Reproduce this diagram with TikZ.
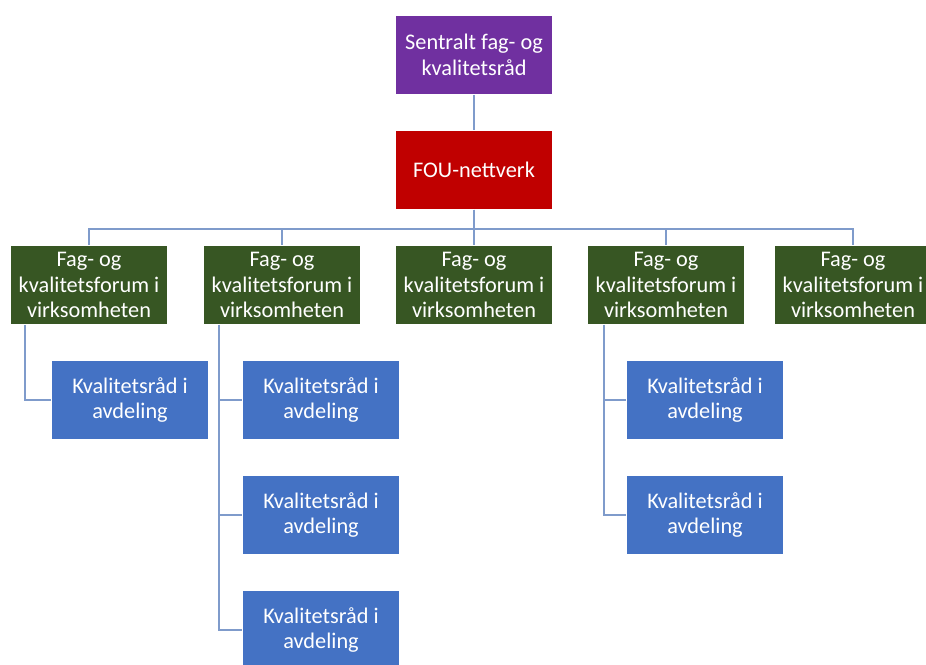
\documentclass[tikz,border=0pt]{standalone}
\usepackage{fontspec}
\setmainfont{Carlito}
\definecolor{raadpurple}{HTML}{7030A0}
\definecolor{foured}{HTML}{C00000}
\definecolor{forumgreen}{HTML}{375623}
\definecolor{avdblue}{HTML}{4472C4}
\definecolor{linkline}{HTML}{7F9BCB}
\begin{document}
\begin{tikzpicture}[x=0.02cm, y=-0.02cm,
    unit/.style={rectangle, draw=white, line width=0.4pt, text=white, align=center,
      minimum width=3.14cm, minimum height=1.58cm, inner sep=1pt,
      font=\fontsize{12.7}{14.6}\selectfont},
    link/.style={draw=linkline, line width=0.8pt}]
        \clip (0,0) rectangle (926,664);

        % Sentralt raad
        \node[unit, fill=raadpurple] (sentral) at (474,55) {Sentralt fag- og\\kvalitetsråd};

        % FOU-nettverk
        \node[unit, fill=foured] (fou) at (474,170) {FOU-nettverk};

        % Fag- og kvalitetsforum
        \node[unit, fill=forumgreen] (forum1) at (89,285) {Fag- og\\kvalitetsforum i\\virksomheten};
        \node[unit, fill=forumgreen] (forum2) at (282,285) {Fag- og\\kvalitetsforum i\\virksomheten};
        \node[unit, fill=forumgreen] (forum3) at (474,285) {Fag- og\\kvalitetsforum i\\virksomheten};
        \node[unit, fill=forumgreen] (forum4) at (666,285) {Fag- og\\kvalitetsforum i\\virksomheten};
        \node[unit, fill=forumgreen] (forum5) at (853,285) {Fag- og\\kvalitetsforum i\\virksomheten};

        % Kvalitetsraad i avdeling
        \node[unit, fill=avdblue] (avd1) at (130,400) {Kvalitetsråd i\\avdeling};
        \node[unit, fill=avdblue] (avd2a) at (321,400) {Kvalitetsråd i\\avdeling};
        \node[unit, fill=avdblue] (avd2b) at (321,515) {Kvalitetsråd i\\avdeling};
        \node[unit, fill=avdblue] (avd2c) at (321,630) {Kvalitetsråd i\\avdeling};
        \node[unit, fill=avdblue] (avd4a) at (705,400) {Kvalitetsråd i\\avdeling};
        \node[unit, fill=avdblue] (avd4b) at (705,515) {Kvalitetsråd i\\avdeling};

        % Connections
        \draw[link] (sentral) -- (fou);
        \foreach \f in {forum1,forum2,forum3,forum4,forum5}
          \draw[link] (fou.south) -- ++(0,19) -| (\f.north);
        \draw[link] ([xshift=0.3cm]forum1.south west) |- (avd1.west);
        \draw[link] ([xshift=0.32cm]forum2.south west) |- (avd2a.west);
        \draw[link] ([xshift=0.32cm]forum2.south west) |- (avd2b.west);
        \draw[link] ([xshift=0.32cm]forum2.south west) |- (avd2c.west);
        \draw[link] ([xshift=0.34cm]forum4.south west) |- (avd4a.west);
        \draw[link] ([xshift=0.34cm]forum4.south west) |- (avd4b.west);
    \end{tikzpicture}
\end{document}
